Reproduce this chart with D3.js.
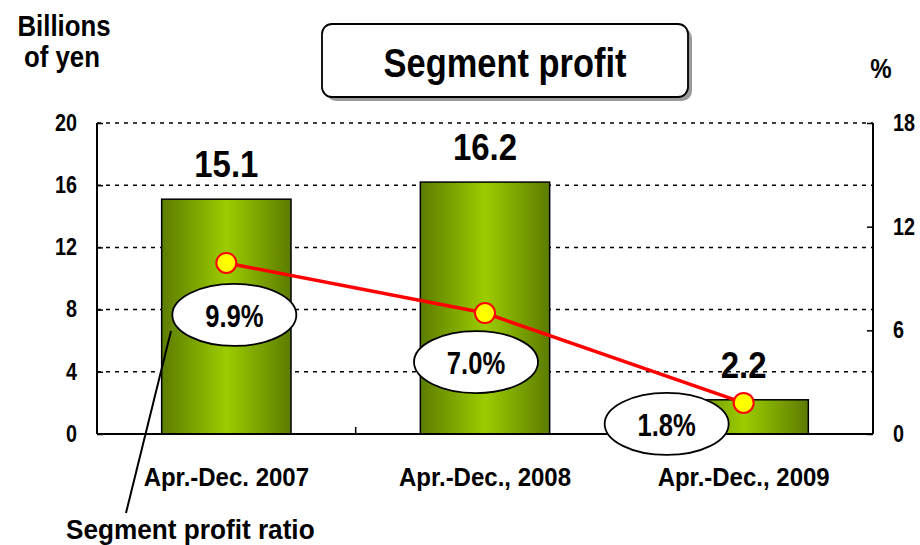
<!DOCTYPE html>
<html>
<head>
<meta charset="utf-8">
<script src="https://cdn.jsdelivr.net/npm/d3@7"></script>
<style>
  body { margin: 0; background: #fff; }
  svg text { font-family: "Liberation Sans", Arial, sans-serif; font-weight: bold; fill: #000; }
</style>
</head>
<body>
<div id="chart"></div>
<script>
// data
var categories = ["Apr.-Dec. 2007", "Apr.-Dec., 2008", "Apr.-Dec., 2009"];
var profit = [15.1, 16.2, 2.2];          // billions of yen
var ratio = [9.9, 7.0, 1.8];             // %
var leftTicks = [0, 4, 8, 12, 16, 20];
var rightTicks = [0, 6, 12, 18];

// label ellipse offsets from the line points (px)
var labelOffsets = [[8, 52], [-9, 49], [-77, 21]];

var W = 920, H = 545;
var margin = {top: 123, right: 47, bottom: 111, left: 97};
var width = W - margin.left - margin.right,
    height = H - margin.top - margin.bottom;

// the original uses a narrow bold face; squeeze text horizontally
function squeeze(sel, sx) {
  sel.each(function() {
    var t = d3.select(this);
    var tx = +t.attr("x") || 0, ty = +t.attr("y") || 0;
    t.attr("x", 0).attr("y", 0)
     .attr("transform", "translate(" + tx + "," + ty + ") scale(" + sx + ",1)");
  });
}

var svg = d3.select("#chart").append("svg")
    .attr("width", W).attr("height", H);

var defs = svg.append("defs");
var grad = defs.append("linearGradient").attr("id", "barGrad")
    .attr("x1", "0%").attr("x2", "100%").attr("y1", "0%").attr("y2", "0%");
grad.append("stop").attr("offset", "0%").attr("stop-color", "#5c7c00");
grad.append("stop").attr("offset", "50%").attr("stop-color", "#9ccc00");
grad.append("stop").attr("offset", "100%").attr("stop-color", "#5c7c00");

var g = svg.append("g").attr("transform", "translate(" + margin.left + "," + margin.top + ")");

var x = d3.scaleBand().domain(categories).range([0, width]).paddingInner(0.5).paddingOuter(0.25);
var xc = d3.scaleBand().domain(categories).range([0, width]);
var y = d3.scaleLinear().domain([0, 20]).range([height, 0]);
var y2 = d3.scaleLinear().domain([0, 18]).range([height, 0]);

// dotted grid
g.selectAll(".grid").data(leftTicks.filter(function(d){ return d > 0; })).enter().append("line")
    .attr("x1", 0).attr("x2", width)
    .attr("y1", function(d){ return y(d); }).attr("y2", function(d){ return y(d); })
    .attr("stroke", "#000").attr("stroke-width", 1.5).attr("stroke-dasharray", "4,5");

// bars
g.selectAll(".bar").data(profit).enter().append("rect")
    .attr("x", function(d, i){ return x(categories[i]); })
    .attr("y", function(d){ return y(d); })
    .attr("width", x.bandwidth())
    .attr("height", function(d){ return height - y(d); })
    .attr("fill", "url(#barGrad)").attr("stroke", "#000").attr("stroke-width", 1.5);

// bar values
g.selectAll(".val").data(profit).enter().append("text")
    .attr("x", function(d, i){ return x(categories[i]) + x.bandwidth() / 2; })
    .attr("y", function(d){ return y(d) - 22; })
    .attr("text-anchor", "middle").attr("font-size", 37)
    .text(function(d){ return d.toFixed(1); })
    .call(squeeze, 0.89);

// left axis
var yAxis = d3.axisLeft(y).tickValues(leftTicks).tickSize(-6).tickPadding(20);
var ya = g.append("g").call(yAxis);
ya.select(".domain").attr("stroke-width", 2).attr("d", "M0," + y(20) + "V" + height);
ya.selectAll(".tick line").attr("stroke-width", 1.5);
ya.selectAll("text").attr("font-size", 23).style("font-family", null).call(squeeze, 0.86);

// right axis
var y2Axis = d3.axisRight(y2).tickValues(rightTicks).tickSize(-6).tickPadding(20);
var ya2 = g.append("g").attr("transform", "translate(" + width + ",0)").call(y2Axis);
ya2.select(".domain").attr("stroke-width", 2).attr("d", "M0," + y2(18) + "V" + height);
ya2.selectAll(".tick line").attr("stroke-width", 1.5);
ya2.selectAll("text").attr("font-size", 23).style("font-family", null).call(squeeze, 0.86);

// bottom axis
var xAxis = d3.axisBottom(xc).tickSize(0).tickPadding(34);
var xa = g.append("g").attr("transform", "translate(0," + height + ")").call(xAxis);
xa.select(".domain").attr("stroke-width", 2).attr("d", "M0,0H" + width);
xa.selectAll("text").attr("font-size", 25).style("font-family", null).call(squeeze, 0.96);
xa.selectAll(".sep").data(categories.slice(1)).enter().append("line")
    .attr("x1", function(d){ return xc(d); }).attr("x2", function(d){ return xc(d); })
    .attr("y1", 0).attr("y2", -7).attr("stroke", "#000").attr("stroke-width", 1.5);

// ratio line
var pts = ratio.map(function(d, i){ return [xc(categories[i]) + xc.bandwidth() / 2, y2(d)]; });
g.append("path").attr("d", d3.line()(pts))
    .attr("fill", "none").attr("stroke", "#ff0000").attr("stroke-width", 3.5);
g.selectAll(".dot").data(pts).enter().append("circle")
    .attr("cx", function(d){ return d[0]; }).attr("cy", function(d){ return d[1]; })
    .attr("r", 10).attr("fill", "#ffff00").attr("stroke", "#ff0000").attr("stroke-width", 2);

// leader line for ratio caption
g.append("line").attr("x1", 74).attr("y1", 208).attr("x2", 29).attr("y2", 390)
    .attr("stroke", "#000").attr("stroke-width", 2);

// ratio labels in ellipses
var lab = g.selectAll(".lab").data(ratio).enter().append("g")
    .attr("transform", function(d, i){ return "translate(" + (pts[i][0] + labelOffsets[i][0]) + "," + (pts[i][1] + labelOffsets[i][1]) + ")"; });
lab.append("ellipse").attr("rx", 62).attr("ry", 31)
    .attr("fill", "#fff").attr("stroke", "#000").attr("stroke-width", 1.8);
lab.append("text").attr("text-anchor", "middle").attr("y", 12).attr("font-size", 32)
    .text(function(d){ return d.toFixed(1) + "%"; })
    .call(squeeze, 0.8);

// title box
svg.append("rect").attr("x", 326).attr("y", 28).attr("width", 366).attr("height", 73).attr("rx", 10)
    .attr("fill", "#9a9a9a");
svg.append("rect").attr("x", 322).attr("y", 24).attr("width", 366).attr("height", 73).attr("rx", 10)
    .attr("fill", "#fff").attr("stroke", "#000").attr("stroke-width", 1.8);
svg.append("text").attr("x", 505).attr("y", 77).attr("text-anchor", "middle").attr("font-size", 41)
    .text("Segment profit").call(squeeze, 0.84);

// axis titles
svg.append("text").attr("x", 64).attr("y", 36).attr("text-anchor", "middle").attr("font-size", 30).text("Billions").call(squeeze, 0.86);
svg.append("text").attr("x", 62).attr("y", 67).attr("text-anchor", "middle").attr("font-size", 30).text("of yen").call(squeeze, 0.86);
svg.append("text").attr("x", 881).attr("y", 78).attr("text-anchor", "middle").attr("font-size", 28).text("%").call(squeeze, 0.86);
svg.append("text").attr("x", 66).attr("y", 539).attr("font-size", 27).text("Segment profit ratio").call(squeeze, 0.97);
</script>
</body>
</html>
